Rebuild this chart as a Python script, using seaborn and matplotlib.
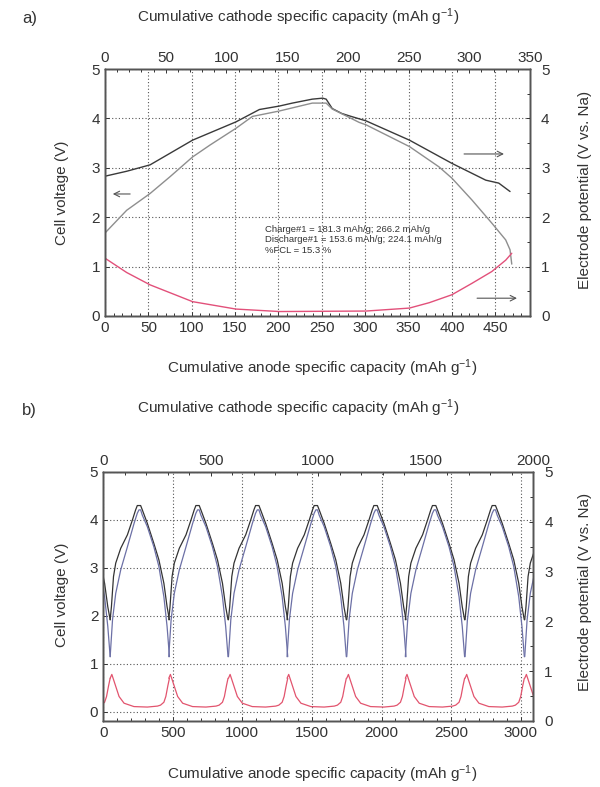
import pandas as pd
import seaborn as sns
import matplotlib.pyplot as plt
from matplotlib.ticker import MultipleLocator, AutoMinorLocator

sns.set_style('ticks')
plt.rcParams['font.family'] = ['Liberation Sans', 'DejaVu Sans']
plt.rcParams['mathtext.default'] = 'regular'

# a) first cycle, x in anode specific capacity (mAh/g)
a_cathode_x = [0, 25, 52, 101, 151, 178, 201, 216, 239, 251, 255, 262, 273, 282, 301, 351, 400, 439, 454, 467]
a_cathode_y = [2.83, 2.93, 3.06, 3.56, 3.93, 4.18, 4.25, 4.31, 4.39, 4.41, 4.39, 4.2, 4.1, 4.05, 3.95, 3.56, 3.09, 2.75, 2.69, 2.52]
a_cell_x = [0, 25, 52, 75, 101, 121, 151, 170, 201, 239, 255, 262, 293, 301, 351, 385, 400, 423, 446, 462, 467, 469]
a_cell_y = [1.68, 2.14, 2.48, 2.82, 3.22, 3.46, 3.8, 4.04, 4.15, 4.31, 4.31, 4.19, 3.92, 3.87, 3.43, 3.02, 2.79, 2.35, 1.88, 1.54, 1.34, 1.05]
a_anode_x = [0, 25, 52, 101, 151, 201, 301, 351, 374, 400, 423, 446, 462, 469]
a_anode_y = [1.17, 0.88, 0.63, 0.29, 0.14, 0.09, 0.1, 0.16, 0.27, 0.43, 0.66, 0.9, 1.13, 1.27]

# b) cycling: one cycle (x relative to each discharge end)
b_cathode_x = [0, 9, 24, 40, 76, 124, 160, 183, 195, 219, 231, 267, 314, 350, 386, 409, 426]
b_cathode_y = [1.92, 2.19, 2.82, 3.1, 3.41, 3.69, 4.0, 4.21, 4.3, 4.3, 4.21, 3.93, 3.51, 3.17, 2.68, 2.19, 1.92]
b_cell_x = [0, 17, 40, 76, 124, 172, 195, 207, 219, 231, 267, 314, 350, 386, 409, 426]
b_cell_y = [1.15, 1.92, 2.47, 2.96, 3.44, 3.93, 4.14, 4.21, 4.21, 4.1, 3.86, 3.44, 3.03, 2.4, 1.78, 1.15]
b_anode_x = [0, 12, 29, 64, 100, 171, 267, 340, 362, 386, 400, 415, 426]
b_anode_y = [0.7, 0.78, 0.63, 0.32, 0.18, 0.11, 0.1, 0.12, 0.14, 0.2, 0.32, 0.55, 0.7]
cycle_starts = [-376, 50, 471, 900, 1321, 1750, 2171, 2600, 3029]

fcl_text = ('Charge#1 = 181.3 mAh/g; 266.2 mAh/g\n'
            'Discharge#1 = 153.6 mAh/g; 224.1 mAh/g\n'
            '%FCL = 15.3 %')

palette_a = {'cathode': '#3a3a3a', 'cell': '#8e8e8e', 'anode': '#e2507a'}
palette_b = {'cathode': '#333333', 'cell': '#6c70a6', 'anode': '#e2546e'}

rows = []
for name, xs, ys in [('cathode', a_cathode_x, a_cathode_y),
                     ('cell', a_cell_x, a_cell_y),
                     ('anode', a_anode_x, a_anode_y)]:
    rows += [{'x': x, 'y': y, 'curve': name} for x, y in zip(xs, ys)]
df_a = pd.DataFrame(rows)

rows = []
for k, s in enumerate(cycle_starts):
    for name, xs, ys in [('cathode', b_cathode_x, b_cathode_y),
                         ('cell', b_cell_x, b_cell_y),
                         ('anode', b_anode_x, b_anode_y)]:
        rows += [{'x': s + x, 'y': y, 'curve': name, 'cycle': k} for x, y in zip(xs, ys)]
df_b = pd.DataFrame(rows)

fig = plt.figure(figsize=(6, 7.87), dpi=100)
ax_a = fig.add_axes([0.175, 0.5985, 0.7083, 0.3138])
ax_b = fig.add_axes([0.172, 0.0839, 0.7167, 0.3164])

sns.lineplot(data=df_a, x='x', y='y', hue='curve', palette=palette_a, sort=False,
             estimator=None, legend=False, linewidth=1.0, ax=ax_a)
sns.lineplot(data=df_b, x='x', y='y', hue='curve', units='cycle', palette=palette_b,
             sort=False, estimator=None, legend=False, linewidth=0.9, ax=ax_b)

tick_kw = dict(direction='in', labelsize=11, colors='#333333', length=3, width=0.7)


def setup(ax, xmax, xstep, ymin, top_max, top_step):
    ax.set_xlim(0, xmax)
    ax.set_ylim(ymin, 5)
    ax.set_xlabel('')
    ax.set_ylabel('')
    ax.xaxis.set_major_locator(MultipleLocator(xstep))
    ax.set_yticks([0, 1, 2, 3, 4, 5])
    ax.xaxis.set_minor_locator(AutoMinorLocator(5))
    ax.grid(True, which='major', linestyle=(0, (1, 2)), color='#555555', linewidth=0.8)
    ax.tick_params(which='both', **tick_kw)
    ax.tick_params(which='minor', length=2)
    for sp in ax.spines.values():
        sp.set_color('#555555')
        sp.set_linewidth(1.0)
    top = ax.twiny()
    top.set_xlim(0, top_max)
    top.xaxis.set_major_locator(MultipleLocator(top_step))
    top.xaxis.set_minor_locator(AutoMinorLocator(5))
    top.tick_params(which='both', pad=3, **tick_kw)
    top.tick_params(which='minor', length=2)
    right = ax.twinx()
    right.set_ylim(0, 5)
    right.yaxis.set_major_locator(MultipleLocator(1))
    right.yaxis.set_minor_locator(AutoMinorLocator(2))
    right.tick_params(which='both', pad=8, **tick_kw)
    right.tick_params(which='minor', length=2)
    for t in (top, right):
        for sp in t.spines.values():
            sp.set_color('#555555')
            sp.set_linewidth(1.0)
    return top, right


setup(ax_a, 490, 50, 0, 350, 50)
setup(ax_b, 3090, 500, -0.19, 2000, 500)

# annotations in panel a
arrow = dict(arrowstyle='->', color='#555555', lw=0.8, shrinkA=0, shrinkB=0)
ax_a.annotate('', xy=(9, 2.47), xytext=(29, 2.47), arrowprops=arrow)
ax_a.annotate('', xy=(460, 3.28), xytext=(414, 3.28), arrowprops=arrow)
ax_a.annotate('', xy=(475, 0.36), xytext=(429, 0.36), arrowprops=arrow)
ax_a.text(185, 1.54, fcl_text, fontsize=6.8, va='center', ha='left', color='#333333',
          linespacing=1.2)

cath = 'Cumulative cathode specific capacity (mAh g$^{-1}$)'
anod = 'Cumulative anode specific capacity (mAh g$^{-1}$)'
lab = dict(fontsize=11, color='#333333', ha='center', va='center')
fig.text(22 / 600, 1 - 18 / 787, 'a)', fontsize=12, color='#333333', va='center')
fig.text(22 / 600, 1 - 410 / 787, 'b)', fontsize=12, color='#333333', va='center')
fig.text(298 / 600, 1 - 17 / 787, cath, **lab)
fig.text(298 / 600, 1 - 408 / 787, cath, **lab)
fig.text(322 / 600, 1 - 368 / 787, anod, **lab)
fig.text(322 / 600, 1 - 774 / 787, anod, **lab)
fig.text(62 / 600, 1 - 193 / 787, 'Cell voltage (V)', rotation=90, **lab)
fig.text(62 / 600, 1 - 595 / 787, 'Cell voltage (V)', rotation=90, **lab)
fig.text(585 / 600, 1 - 190 / 787, 'Electrode potential (V vs. Na)', rotation=90, **lab)
fig.text(585 / 600, 1 - 592 / 787, 'Electrode potential (V vs. Na)', rotation=90, **lab)

fig.savefig('out.png', dpi=100, facecolor='white')
